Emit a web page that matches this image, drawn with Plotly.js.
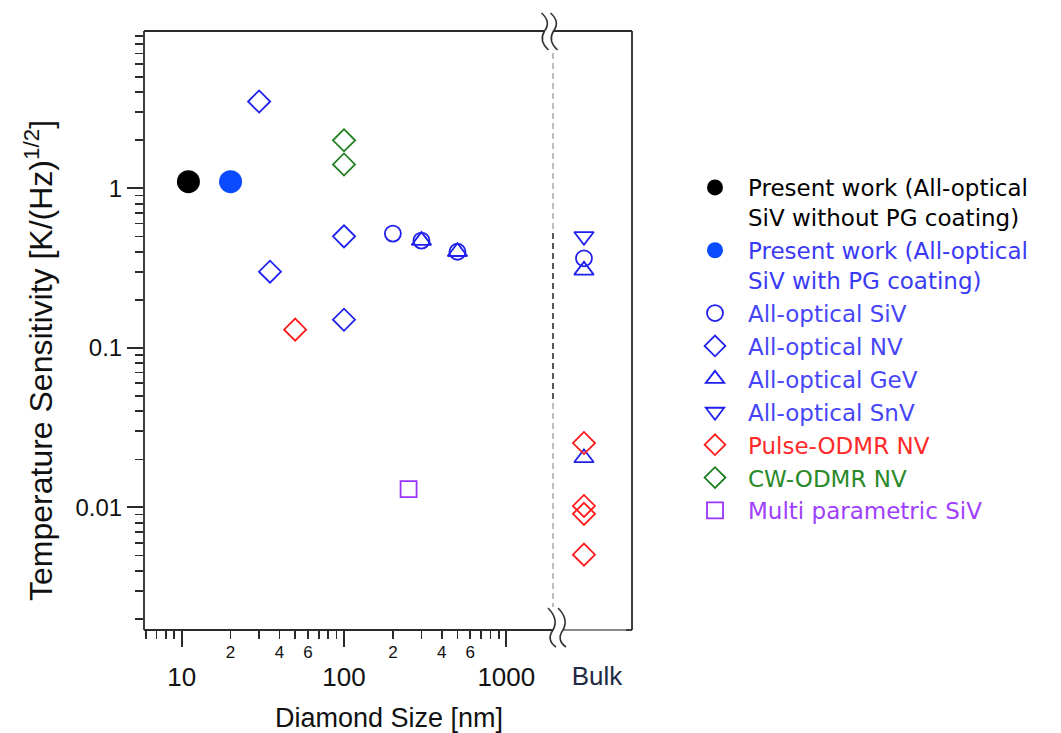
<!DOCTYPE html>
<html>
<head>
<meta charset="utf-8">
<script src="https://cdn.plot.ly/plotly-3.0.1.min.js"></script>
<style>html,body{margin:0;padding:0;background:#fff;}#chart{width:1061px;height:733px;}</style>
</head>
<body>
<div id="chart"></div>
<script>
// ---------------- data ----------------
const bulkLabel = 'Bulk';
const presentNoPGSize = [11];
const presentNoPGSens = [1.1];
const presentPGSize = [20];
const presentPGSens = [1.1];
const sivSize = [200, 300, 500];
const sivSens = [0.52, 0.47, 0.40];
const sivBulkSens = [0.364];
const nvSize = [30, 35, 100, 100];
const nvSens = [3.5, 0.30, 0.50, 0.15];
const gevSize = [300, 500];
const gevSens = [0.47, 0.40];
const gevBulkSens = [0.306, 0.0204];
const snvBulkSens = [0.50];
const pulseSize = [50];
const pulseSens = [0.13];
const pulseBulkSens = [0.0253, 0.0102, 0.0091, 0.00505];
const cwSize = [100, 100];
const cwSens = [2.0, 1.41];
const multiSize = [250];
const multiSens = [0.013];

const yTickVals = [0.01, 0.1, 1];
const yTickText = ['0.01', '0.1', '1'];
const xTickVals = [10, 100, 1000];
const xTickText = ['10', '100', '1000'];
const xSubTickVals = [20, 40, 60, 200, 400, 600];
const xSubTickText = ['2', '4', '6', '2', '4', '6'];
const xTitle = 'Diamond Size [nm]';
const yTitle = 'Temperature Sensitivity [K/(Hz)<sup>1/2</sup>]';

// --------------- geometry helpers (pixels -> paper) ---------------
const L = 144, R = 632, T = 31, B = 630;
const W = R - L, H = B - T;
const px = x => (x - L) / W;
const py = y => (B - y) / H;
const BREAK_X = 553;
const dEnd = px(BREAK_X);

function minorVals(lo, hi) {
  const out = [];
  for (let e = lo; e <= hi; e++) for (let d = 2; d <= 9; d++) out.push(d * Math.pow(10, e));
  return out;
}

const BLUE = '#2020ee';
const RED = '#ff1a1a';
const GREEN = '#1e7f1e';
const PURPLE = '#9933ff';
const bulkX = arr => arr.map(() => bulkLabel);

function span(c, t) { return '<span style="color:' + c + '">' + t + '</span>'; }

const openLine = c => ({ color: c, width: 1.8 });

const traces = [
  { name: span('#000', 'Present work (All-optical') + '<br>' + span('#000', 'SiV without PG coating)'),
    x: presentNoPGSize, y: presentNoPGSens, mode: 'markers', type: 'scatter',
    marker: { symbol: 'circle', size: 23, color: '#000' } },
  { name: span('#3a3af5', 'Present work (All-optical') + '<br>' + span('#3a3af5', 'SiV with PG coating)'),
    x: presentPGSize, y: presentPGSens, mode: 'markers', type: 'scatter',
    marker: { symbol: 'circle', size: 23, color: '#0a4bff' } },
  { name: span('#4646f8', 'All-optical SiV'),
    x: sivSize, y: sivSens, mode: 'markers', type: 'scatter',
    marker: { symbol: 'circle-open', size: 16, color: BLUE, line: openLine(BLUE) } },
  { name: span('#4646f8', 'All-optical NV'),
    x: nvSize, y: nvSens, mode: 'markers', type: 'scatter',
    marker: { symbol: 'diamond-open', size: 17, color: BLUE, line: openLine(BLUE) } },
  { name: span('#4646f8', 'All-optical GeV'),
    x: gevSize, y: gevSens, mode: 'markers', type: 'scatter',
    marker: { symbol: 'triangle-up-open', size: 17, color: BLUE, line: openLine(BLUE) } },
  { name: span('#4646f8', 'All-optical SnV'),
    x: bulkX(snvBulkSens), y: snvBulkSens, xaxis: 'x2', mode: 'markers', type: 'scatter',
    marker: { symbol: 'triangle-down-open', size: 17, color: BLUE, line: openLine(BLUE) } },
  { name: span('#ff2a2a', 'Pulse-ODMR NV'),
    x: pulseSize, y: pulseSens, mode: 'markers', type: 'scatter',
    marker: { symbol: 'diamond-open', size: 17, color: RED, line: openLine(RED) } },
  { name: span('#2a8a2a', 'CW-ODMR NV'),
    x: cwSize, y: cwSens, mode: 'markers', type: 'scatter',
    marker: { symbol: 'diamond-open', size: 17, color: GREEN, line: openLine(GREEN) } },
  { name: span('#a040ff', 'Multi parametric SiV'),
    x: multiSize, y: multiSens, mode: 'markers', type: 'scatter',
    marker: { symbol: 'square-open', size: 16, color: PURPLE, line: openLine(PURPLE) } },
  // bulk points
  { x: bulkX(sivBulkSens), y: sivBulkSens, xaxis: 'x2', mode: 'markers', type: 'scatter', showlegend: false,
    marker: { symbol: 'circle-open', size: 16, color: BLUE, line: openLine(BLUE) } },
  { x: bulkX(gevBulkSens), y: gevBulkSens, xaxis: 'x2', mode: 'markers', type: 'scatter', showlegend: false,
    marker: { symbol: 'triangle-up-open', size: 17, color: BLUE, line: openLine(BLUE) } },
  { x: bulkX(pulseBulkSens), y: pulseBulkSens, xaxis: 'x2', mode: 'markers', type: 'scatter', showlegend: false,
    marker: { symbol: 'diamond-open', size: 17, color: RED, line: openLine(RED) } },
  // carrier for the sub-decade labels axis
  { x: [], y: [], xaxis: 'x3', mode: 'markers', type: 'scatter', showlegend: false, hoverinfo: 'skip' }
];

const FRAME = '#2b2b2b';
const SANS = 'Liberation Sans, Arial, sans-serif';
const tickFont = { family: SANS, size: 24, color: '#111' };

function P(x, y) { return px(x).toFixed(5) + ',' + py(y).toFixed(5); }
function topBreak(x0) {
  return 'M' + P(x0, 13) + ' Q' + P(x0 + 10, 22) + ' ' + P(x0 + 3, 31) + ' Q' + P(x0 - 3, 41) + ' ' + P(x0 + 7, 50);
}
function botBreak(x0) {
  return 'M' + P(x0, 608) + ' Q' + P(x0 + 11, 619) + ' ' + P(x0 + 5, 630) + ' Q' + P(x0 - 2, 640) + ' ' + P(x0 + 8, 647);
}
const lineShape = (x0, y0, x1, y1, color, width, dash) => ({
  type: 'line', xref: 'paper', yref: 'paper', x0: px(x0), y0: py(y0), x1: px(x1), y1: py(y1),
  line: { color: color, width: width, dash: dash || 'solid' }, layer: 'below'
});
const shapes = [
  lineShape(L, T, L, B, FRAME, 1.8),
  lineShape(R, T, R, B, FRAME, 1.8),
  lineShape(L, T, 544.5, T, FRAME, 1.8),
  lineShape(553.5, T, R, T, FRAME, 1.8),
  lineShape(L, B, 553, B, FRAME, 1.8),
  lineShape(563, B, 626, B, '#8a8a8a', 1.8),
  lineShape(626, B, R, B, FRAME, 1.8),
  lineShape(BREAK_X, 53, BREAK_X, 607, '#9a9a9a', 1.3, '6px,4px'),
  lineShape(BREAK_X, 233, BREAK_X, 403, '#222', 1.3, '6px,4px'),
];
[541.5, 550.5].forEach(x0 => shapes.push({ type: 'path', xref: 'paper', yref: 'paper', path: topBreak(x0),
  line: { color: '#333', width: 1.6 } }));
[548, 558].forEach(x0 => shapes.push({ type: 'path', xref: 'paper', yref: 'paper', path: botBreak(x0),
  line: { color: '#333', width: 1.6 } }));

const logRange = [0.7677, 3.2877];

const layout = {
  width: 1061, height: 733,
  margin: { l: L, r: 1061 - R, t: T, b: 733 - B, pad: 0 },
  paper_bgcolor: '#fff', plot_bgcolor: '#fff',
  showlegend: true,
  font: { family: SANS, color: '#111' },
  xaxis: {
    type: 'log', domain: [0, dEnd], range: logRange, anchor: 'y',
    showgrid: false, zeroline: false, showline: false,
    tickmode: 'array', tickvals: xTickVals, ticktext: xTickText,
    ticks: 'outside', ticklen: 16, tickwidth: 1.8, tickcolor: FRAME,
    ticklabelstandoff: 8,
    tickfont: { family: SANS, size: 26, color: '#111' },
    minor: { tickmode: 'array', tickvals: minorVals(0, 3), ticks: 'outside', ticklen: 8, tickwidth: 1.6, tickcolor: FRAME }
  },
  xaxis3: {
    type: 'log', overlaying: 'x', range: logRange, anchor: 'y', side: 'bottom',
    showgrid: false, zeroline: false, showline: false, ticks: '',
    tickmode: 'array', tickvals: xSubTickVals, ticktext: xSubTickText,
    ticklabelstandoff: 10,
    tickfont: { family: SANS, size: 17, color: '#111' }
  },
  xaxis2: {
    type: 'category', domain: [dEnd, 1], anchor: 'y', range: [-0.392, 0.608],
    showgrid: false, zeroline: false, showline: false, ticks: '',
    tickmode: 'array', tickvals: [bulkLabel], ticktext: [bulkLabel],
    ticklabelstandoff: 28, ticklabelshift: 13,
    tickfont: { family: SANS, size: 26, color: '#1f2a44' }
  },
  yaxis: {
    type: 'log', range: [-2.769, 0.986], anchor: 'x',
    showgrid: false, zeroline: false, showline: false,
    tickmode: 'array', tickvals: yTickVals, ticktext: yTickText,
    ticks: 'outside', ticklen: 16, tickwidth: 1.8, tickcolor: FRAME,
    tickfont: tickFont,
    minor: { tickmode: 'array', tickvals: minorVals(-3, 0), ticks: 'outside', ticklen: 8, tickwidth: 1.6, tickcolor: FRAME }
  },
  annotations: [
    { text: yTitle, textangle: -90, xref: 'paper', yref: 'paper',
      x: px(39), y: py(361), xanchor: 'center', yanchor: 'middle', showarrow: false,
      font: { family: SANS, size: 32, color: '#111' } },
    { text: xTitle, xref: 'paper', yref: 'paper',
      x: px(389), y: py(718), xanchor: 'center', yanchor: 'middle', showarrow: false,
      font: { family: SANS, size: 27, color: '#111' } }
  ],
  legend: {
    x: px(682), xanchor: 'left', y: py(166), yanchor: 'top',
    itemwidth: 56, valign: 'top', tracegroupgap: 0,
    bgcolor: 'rgba(0,0,0,0)', borderwidth: 0,
    font: { family: 'DejaVu Sans, Noto Sans CJK JP, sans-serif', size: 23, color: '#000' }
  },
  shapes: shapes
};

Plotly.newPlot('chart', traces, layout, { displayModeBar: false, staticPlot: true });
</script>
</body>
</html>
